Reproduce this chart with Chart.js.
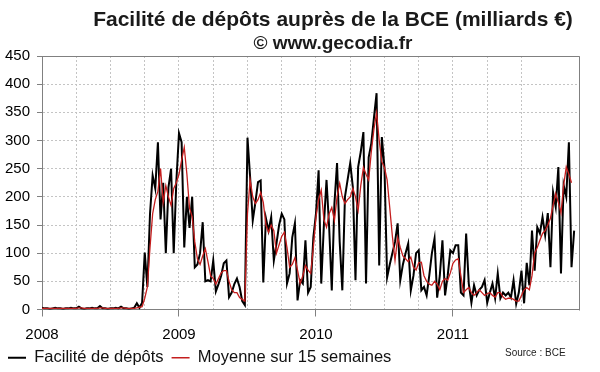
<!DOCTYPE html>
<html>
<head>
<meta charset="utf-8">
<script src="https://cdn.jsdelivr.net/npm/chart.js@4.4.0/dist/chart.umd.min.js"></script>
<style>
  body { margin: 0; background: #fff; overflow: hidden; }
  #wrap { position: relative; width: 600px; height: 372px; }
  .titre { position: absolute; left: 333px; transform: translateX(-50%); white-space: nowrap;
           font-family: "Liberation Sans", Arial, sans-serif; font-weight: bold; color: #1a1a1a; }
  #t1 { top: 7px; font-size: 21px; }
  #t2 { top: 32px; font-size: 19px; }
  #source { position: absolute; left: 505px; top: 347px; font: 10px "Liberation Sans", Arial, sans-serif; color: #222; }
</style>
</head>
<body>
<div id="wrap">
  <canvas id="chart" width="600" height="372"></canvas>
  <div class="titre" id="t1">Facilité de dépôts auprès de la BCE (milliards €)</div>
  <div class="titre" id="t2">© www.gecodia.fr</div>
  <div id="source">Source : BCE</div>
</div>
<script>
// semaines depuis debut 2008 (milliards €)
const debut = 2008;
const annees = [2008, 2009, 2010, 2011];

// facilite de depots, une valeur par semaine
const depots = [
  3,2,2,1,2,3,2,2,1,2, 2,3,2,2,5,2,1,2,2,3, 2,2,6,2,2,1,2,2,3,2, 5,2,2,1,2,3,
  11,3,
  12,101,40,170,238,215,297,160,225,100,217,250,100,228,313,297,110,200,145,200,75,80,100,
  155,50,52,50,87,32,45,60,82,87,22,30,45,55,40,15,8,
  305,235,158,190,226,229,48,162,140,164,87,117,150,170,160,46,64,128,153,16,52,46,123,30,40,
  128,170,247,46,150,230,146,34,188,260,120,34,200,230,260,217,52,253,280,315,46,270,295,340,384,
  78,306,252,57,80,100,120,153,52,80,100,117,34,60,100,105,34,40,25,60,100,126,21,60,123,
  25,60,105,100,114,114,30,25,135,46,12,43,25,35,40,52,12,30,46,20,64,20,30,25,30,
  21,52,10,30,69,11,83,43,140,69,146,135,164,132,171,75,208,182,253,64,221,200,297,75,140
];

// moyenne sur 15 semaines
const moyenne = [
  2,2,2,2,2,2,2,2,2,2, 2,2,2,2,3,3,2,2,2,2, 2,2,3,3,2,2,2,2,2,2, 3,3,2,2,2,2,3,4,
  5,20,40,110,170,195,210,250,190,220,200,185,215,225,240,265,288,240,180,165,120,90,80,95,108,
  85,60,55,45,55,65,69,69,50,35,30,30,21,18,15,170,230,200,188,195,208,190,150,137,150,
  140,100,115,130,137,110,75,80,92,70,46,60,78,70,64,110,164,195,212,160,146,170,181,158,200,
  224,200,188,195,200,215,200,176,220,252,240,230,280,320,349,300,262,252,230,181,130,87,128,110,95,
  90,85,93,75,70,83,84,60,50,45,43,50,45,35,50,55,52,65,82,88,90,60,30,35,39,
  30,25,30,35,30,25,28,30,25,22,30,30,22,18,20,20,18,15,15,25,35,39,35,60,100,
  110,123,135,140,150,162,185,206,190,171,220,253,240,225
];

const enPoints = (vals) => vals.map((v, i) => ({ x: debut + i / 52, y: v }));

Chart.defaults.font.family = '"Liberation Sans", Arial, sans-serif';
Chart.defaults.color = '#000';

// cadre haut et droite du graphique
const cadre = {
  id: 'cadre',
  afterDraw(chart) {
    const a = chart.chartArea, ctx = chart.ctx;
    ctx.save();
    ctx.strokeStyle = '#808080';
    ctx.lineWidth = 1;
    ctx.beginPath();
    ctx.moveTo(Math.round(a.left) + 0.5, Math.round(a.top) + 0.5);
    ctx.lineTo(Math.round(a.right) + 0.5, Math.round(a.top) + 0.5);
    ctx.lineTo(Math.round(a.right) + 0.5, Math.round(a.bottom) + 0.5);
    ctx.stroke();
    ctx.restore();
  }
};

new Chart(document.getElementById("chart"), {
  type: 'line',
  data: {
    datasets: [
      {
        label: "Facilité de dépôts",
        data: enPoints(depots),
        borderColor: '#000',
        backgroundColor: '#000',
        borderWidth: 2,
        pointRadius: 0,
        order: 2
      },
      {
        label: "Moyenne sur 15 semaines",
        data: enPoints(moyenne),
        borderColor: '#c41e1e',
        backgroundColor: '#c41e1e',
        borderWidth: 1.3,
        pointRadius: 0,
        order: 1
      }
    ]
  },
  options: {
    responsive: false,
    animation: false,
    events: [],
    layout: { padding: { top: 56, right: 21, left: 0, bottom: -4 } },
    plugins: {
      title: { display: false },
      tooltip: { enabled: false },
      legend: {
        position: 'bottom',
        align: 'start',
        labels: {
          usePointStyle: true,
          pointStyle: 'line',
          pointStyleWidth: 18,
          padding: 8,
          color: '#111',
          font: { size: 16.5 },
          sort: (a, b) => a.datasetIndex - b.datasetIndex
        }
      }
    },
    scales: {
      x: {
        type: 'linear',
        min: 2008,
        max: 2011.92,
        afterFit: (s) => { s.height = 32; },
        ticks: {
          stepSize: 0.25,
          autoSkip: false,
          maxRotation: 0,
          padding: 9,
          font: { size: 15 },
          callback: (v) => annees.includes(v) ? String(v) : ''
        },
        grid: {
          color: '#c4c4c4',
          tickLength: 7,
          tickColor: (c) => (c.tick && annees.includes(c.tick.value)) ? '#808080' : 'rgba(0,0,0,0)'
        },
        border: { color: '#808080', dash: [2, 2] }
      },
      y: {
        min: 0,
        max: 450,
        afterFit: (s) => { s.width = 42; },
        ticks: { stepSize: 50, padding: 7, font: { size: 15 } },
        grid: { color: '#c4c4c4', tickLength: 5, tickColor: '#808080' },
        border: { color: '#808080', dash: [2, 2] }
      }
    }
  },
  plugins: [cadre]
});
</script>
</body>
</html>
